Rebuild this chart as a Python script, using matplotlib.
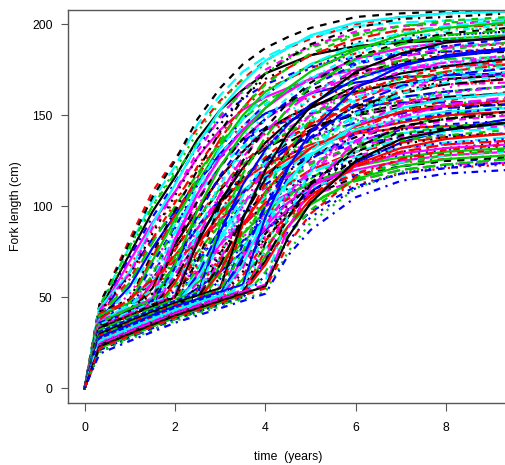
import numpy as np
import matplotlib
matplotlib.use("Agg")
import matplotlib.pyplot as plt

plt.rcParams['font.family'] = ['Liberation Sans', 'DejaVu Sans']

# years at which fork length is tabulated
time = [0, 0.33, 1, 1.5, 2, 2.5, 3, 3.5, 4, 4.5, 5, 6, 7, 8, 9.4]

# fork length (cm) per fish, grouped by when the fast growth starts
early = [
    [0, 43, 74, 97, 116, 137, 153, 164, 173, 178, 183, 188, 190, 191, 192],
    [0, 46, 82, 108, 126, 143, 158, 170, 180, 187, 192, 200, 204, 206, 207],
    [0, 44, 76, 100, 120, 141, 157, 170, 178, 183, 188, 194, 196, 197, 198],
    [0, 42, 72, 94, 113, 133, 148, 159, 167, 172, 177, 182, 184, 185, 186],
    [0, 45, 78, 103, 122, 145, 161, 174, 182, 188, 193, 199, 201, 202, 203],
    [0, 41, 70, 91, 108, 127, 142, 153, 160, 165, 170, 175, 176, 177, 178],
    [0, 46, 80, 105, 125, 148, 165, 178, 187, 193, 198, 204, 206, 207, 208],
    [0, 40, 67, 87, 103, 121, 134, 144, 151, 156, 160, 165, 166, 167, 168],
    [0, 45, 78, 100, 118, 135, 150, 163, 173, 181, 187, 195, 199, 201, 202],
    [0, 39, 64, 82, 97, 114, 127, 136, 143, 147, 151, 155, 157, 157, 158],
]
mix_0_1 = [
    [0, 44, 64, 90, 112, 134, 153, 168, 180, 187, 194, 201, 204, 206, 207],
    [0, 43, 63, 88, 108, 130, 149, 164, 175, 182, 188, 196, 199, 200, 202],
    [0, 42, 62, 85, 106, 127, 145, 160, 170, 176, 183, 190, 194, 194, 196],
    [0, 40, 60, 82, 102, 122, 140, 154, 164, 170, 176, 184, 186, 188, 189],
    [0, 40, 58, 80, 100, 118, 135, 148, 158, 164, 170, 176, 180, 181, 182],
    [0, 38, 56, 77, 95, 113, 129, 142, 151, 156, 162, 168, 171, 172, 173],
    [0, 38, 54, 74, 90, 107, 122, 133, 142, 147, 152, 158, 160, 161, 162],
    [0, 36, 52, 70, 85, 101, 114, 125, 133, 138, 142, 148, 150, 150, 152],
]
one_yr = [
    [0, 42, 49, 74, 98, 120, 141, 159, 173, 181, 189, 198, 203, 204, 206],
    [0, 41, 48, 72, 95, 116, 137, 154, 168, 176, 183, 192, 197, 198, 200],
    [0, 40, 47, 70, 93, 113, 133, 150, 163, 170, 178, 187, 191, 192, 194],
    [0, 38, 45, 68, 89, 108, 127, 144, 156, 163, 170, 179, 183, 185, 186],
    [0, 37, 44, 65, 86, 104, 122, 138, 150, 157, 163, 171, 175, 177, 178],
    [0, 36, 43, 63, 82, 99, 116, 131, 142, 148, 154, 162, 166, 167, 168],
    [0, 35, 42, 60, 77, 93, 109, 122, 132, 138, 144, 150, 154, 155, 156],
    [0, 34, 41, 58, 73, 88, 102, 114, 123, 128, 134, 140, 143, 144, 145],
]
mix_1_15 = [
    [0, 40, 47, 62, 91, 116, 136, 154, 167, 176, 184, 194, 199, 202, 204],
    [0, 39, 46, 60, 88, 112, 132, 148, 161, 170, 176, 186, 192, 194, 196],
    [0, 38, 45, 59, 86, 108, 128, 144, 156, 164, 171, 180, 185, 188, 190],
    [0, 36, 44, 58, 82, 104, 122, 137, 148, 156, 162, 172, 176, 179, 181],
    [0, 35, 42, 55, 79, 98, 116, 130, 142, 149, 155, 163, 168, 170, 172],
    [0, 34, 41, 54, 76, 94, 110, 124, 134, 140, 146, 154, 158, 160, 162],
    [0, 33, 40, 52, 72, 88, 104, 116, 124, 131, 136, 143, 147, 149, 150],
    [0, 32, 39, 50, 68, 84, 98, 108, 116, 122, 128, 134, 138, 139, 140],
]
one_half_yr = [
    [0, 38, 45, 50, 84, 111, 132, 148, 161, 170, 178, 189, 195, 199, 202],
    [0, 37, 44, 49, 82, 107, 127, 142, 154, 163, 170, 181, 187, 190, 193],
    [0, 36, 43, 48, 79, 103, 122, 137, 148, 157, 164, 173, 179, 183, 185],
    [0, 35, 42, 47, 76, 99, 116, 130, 140, 149, 155, 164, 170, 173, 176],
    [0, 33, 40, 45, 72, 93, 110, 123, 133, 141, 147, 155, 160, 163, 166],
    [0, 32, 39, 44, 69, 89, 104, 116, 125, 133, 138, 146, 151, 154, 156],
    [0, 31, 38, 43, 66, 84, 98, 109, 117, 124, 129, 136, 140, 143, 145],
    [0, 30, 37, 42, 63, 80, 93, 103, 110, 117, 121, 128, 132, 134, 136],
]
steady = [
    [0, 34, 44, 52, 61, 72, 86, 101, 115, 127, 137, 153, 163, 169, 174],
    [0, 31, 40, 47, 55, 64, 76, 90, 104, 116, 126, 142, 152, 158, 163],
    [0, 29, 37, 43, 50, 58, 68, 80, 93, 105, 115, 132, 143, 150, 155],
    [0, 27, 35, 41, 47, 55, 64, 75, 87, 98, 108, 124, 135, 142, 148],
    [0, 36, 46, 54, 62, 70, 80, 92, 106, 120, 132, 151, 165, 174, 181],
    [0, 32, 42, 50, 57, 65, 73, 83, 95, 108, 120, 140, 155, 165, 172],
    [0, 25, 33, 39, 45, 52, 60, 70, 82, 95, 107, 127, 142, 152, 158],
    [0, 38, 49, 60, 70, 80, 92, 106, 120, 132, 142, 158, 168, 174, 178],
]
mix_15_2 = [
    [0, 36, 44, 48, 68, 98, 122, 140, 154, 165, 174, 186, 194, 198, 201],
    [0, 36, 42, 48, 66, 95, 117, 134, 148, 158, 166, 178, 184, 188, 192],
    [0, 34, 42, 46, 64, 92, 112, 129, 142, 152, 159, 170, 176, 180, 183],
    [0, 33, 40, 45, 62, 88, 106, 122, 134, 143, 150, 160, 166, 170, 173],
    [0, 32, 38, 44, 60, 82, 101, 116, 126, 135, 142, 151, 156, 160, 162],
    [0, 30, 38, 42, 58, 79, 96, 108, 118, 126, 132, 141, 146, 150, 152],
    [0, 30, 36, 42, 56, 75, 90, 102, 111, 118, 124, 132, 136, 139, 142],
    [0, 28, 36, 40, 54, 72, 86, 97, 105, 112, 116, 124, 128, 131, 133],
]
two_yr = [
    [0, 35, 42, 47, 52, 86, 112, 132, 148, 160, 170, 184, 192, 196, 200],
    [0, 34, 41, 46, 51, 83, 107, 127, 141, 153, 162, 175, 182, 187, 190],
    [0, 33, 40, 45, 50, 80, 103, 121, 135, 146, 154, 166, 173, 177, 181],
    [0, 31, 38, 43, 48, 76, 97, 114, 127, 137, 145, 156, 163, 167, 170],
    [0, 30, 37, 42, 47, 72, 92, 108, 120, 129, 136, 147, 153, 156, 159],
    [0, 29, 36, 41, 46, 69, 87, 101, 112, 120, 127, 136, 142, 145, 147],
    [0, 28, 35, 40, 45, 66, 82, 95, 105, 113, 119, 127, 132, 135, 138],
    [0, 27, 34, 39, 44, 63, 79, 91, 100, 107, 112, 120, 125, 128, 130],
]
mix_2_25 = [
    [0, 34, 40, 46, 50, 70, 101, 125, 143, 157, 168, 182, 190, 195, 198],
    [0, 32, 40, 44, 50, 68, 96, 120, 136, 149, 159, 172, 180, 184, 188],
    [0, 32, 38, 44, 48, 66, 93, 114, 130, 142, 150, 163, 170, 174, 178],
    [0, 30, 36, 42, 46, 62, 88, 107, 122, 132, 141, 152, 160, 163, 166],
    [0, 28, 36, 40, 46, 60, 83, 101, 114, 124, 132, 142, 148, 152, 154],
    [0, 28, 34, 40, 44, 58, 79, 95, 107, 116, 124, 133, 138, 142, 144],
    [0, 26, 34, 38, 44, 56, 75, 90, 101, 110, 116, 124, 130, 132, 135],
    [0, 26, 32, 38, 42, 54, 72, 86, 96, 104, 110, 118, 124, 126, 128],
]
two_half_yr = [
    [0, 32, 39, 44, 49, 53, 90, 118, 138, 154, 166, 181, 189, 194, 197],
    [0, 31, 38, 43, 48, 52, 86, 112, 131, 145, 156, 170, 178, 182, 186],
    [0, 30, 37, 42, 47, 51, 83, 106, 124, 137, 147, 160, 167, 171, 174],
    [0, 28, 35, 40, 45, 49, 78, 100, 116, 128, 137, 149, 156, 159, 162],
    [0, 27, 34, 39, 44, 48, 74, 94, 108, 119, 128, 138, 144, 148, 150],
    [0, 26, 33, 38, 43, 47, 71, 89, 102, 112, 120, 130, 135, 138, 140],
    [0, 25, 32, 37, 42, 46, 68, 85, 97, 106, 113, 122, 127, 130, 132],
    [0, 24, 31, 36, 41, 45, 66, 81, 93, 102, 109, 117, 122, 125, 126],
]
mix_25_3 = [
    [0, 31, 38, 43, 48, 52, 72, 106, 129, 147, 160, 178, 186, 192, 195],
    [0, 30, 37, 42, 47, 51, 70, 100, 122, 138, 150, 166, 174, 179, 183],
    [0, 28, 36, 40, 46, 50, 68, 94, 115, 130, 141, 155, 162, 167, 170],
    [0, 27, 34, 39, 44, 48, 64, 90, 108, 122, 132, 144, 152, 155, 158],
    [0, 26, 33, 38, 43, 47, 62, 84, 101, 114, 123, 134, 140, 144, 146],
    [0, 25, 32, 37, 42, 46, 60, 80, 96, 106, 116, 126, 132, 135, 137],
    [0, 24, 31, 36, 41, 45, 58, 78, 91, 102, 110, 119, 124, 128, 130],
    [0, 23, 30, 35, 40, 44, 56, 74, 88, 98, 106, 114, 120, 123, 124],
]
three_yr = [
    [0, 30, 37, 42, 47, 51, 55, 93, 120, 140, 155, 174, 184, 190, 193],
    [0, 29, 36, 41, 46, 50, 54, 88, 113, 131, 145, 162, 171, 176, 180],
    [0, 27, 34, 39, 44, 48, 52, 83, 106, 122, 135, 150, 158, 163, 166],
    [0, 26, 33, 38, 43, 47, 51, 79, 100, 115, 126, 140, 147, 151, 154],
    [0, 25, 32, 37, 42, 46, 50, 75, 94, 108, 118, 130, 137, 141, 143],
    [0, 24, 31, 36, 41, 45, 49, 72, 89, 102, 111, 122, 129, 132, 134],
    [0, 23, 30, 35, 40, 44, 48, 70, 85, 97, 106, 116, 122, 125, 127],
    [0, 22, 29, 34, 39, 43, 47, 68, 83, 94, 102, 112, 118, 121, 123],
]
mix_3_35 = [
    [0, 29, 36, 41, 46, 50, 54, 75, 107, 130, 148, 170, 180, 186, 190],
    [0, 28, 34, 40, 44, 48, 52, 72, 100, 122, 138, 156, 166, 172, 176],
    [0, 26, 33, 38, 43, 47, 51, 68, 95, 114, 128, 145, 154, 159, 162],
    [0, 25, 32, 37, 42, 46, 50, 66, 90, 107, 120, 135, 143, 147, 150],
    [0, 24, 31, 36, 41, 45, 49, 64, 85, 101, 112, 126, 134, 138, 140],
    [0, 23, 30, 35, 40, 44, 48, 62, 81, 96, 106, 118, 126, 129, 131],
    [0, 22, 29, 34, 39, 43, 47, 60, 78, 92, 102, 114, 120, 123, 126],
]
three_half_yr = [
    [0, 28, 35, 40, 45, 49, 53, 57, 94, 121, 141, 165, 177, 183, 187],
    [0, 26, 33, 38, 43, 47, 51, 55, 88, 113, 130, 151, 162, 168, 172],
    [0, 25, 32, 37, 42, 46, 50, 54, 84, 105, 121, 140, 150, 155, 158],
    [0, 24, 31, 36, 41, 45, 49, 53, 80, 99, 113, 130, 139, 143, 146],
    [0, 23, 30, 35, 40, 44, 48, 52, 76, 94, 106, 122, 130, 134, 136],
    [0, 22, 29, 34, 39, 43, 47, 51, 73, 89, 101, 115, 122, 126, 128],
    [0, 21, 28, 33, 38, 42, 46, 50, 71, 86, 97, 111, 118, 121, 124],
]
mix_35_4 = [
    [0, 27, 34, 39, 44, 48, 52, 56, 76, 108, 130, 158, 171, 178, 182],
    [0, 25, 32, 37, 42, 46, 50, 54, 72, 100, 120, 144, 156, 162, 166],
    [0, 24, 31, 36, 41, 45, 49, 53, 70, 94, 112, 132, 144, 148, 152],
    [0, 23, 30, 35, 40, 44, 48, 52, 68, 89, 104, 123, 132, 137, 140],
    [0, 22, 28, 34, 38, 42, 46, 50, 64, 84, 98, 116, 124, 128, 131],
    [0, 20, 28, 32, 38, 42, 46, 50, 62, 81, 94, 110, 118, 122, 124],
]
four_yr = [
    [0, 26, 33, 38, 43, 47, 51, 55, 59, 95, 120, 150, 165, 173, 177],
    [0, 24, 31, 36, 41, 45, 49, 53, 57, 88, 110, 136, 149, 156, 160],
    [0, 23, 30, 35, 40, 44, 48, 52, 56, 83, 102, 125, 137, 142, 146],
    [0, 22, 29, 34, 39, 43, 47, 51, 55, 79, 96, 116, 126, 131, 134],
    [0, 20, 27, 32, 37, 41, 45, 49, 53, 75, 91, 110, 119, 123, 126],
    [0, 19, 26, 31, 36, 40, 44, 48, 52, 73, 87, 105, 114, 118, 120],
]

curves = (early + mix_0_1 + one_yr + mix_1_15 + one_half_yr + steady
          + mix_15_2 + two_yr + mix_2_25 + two_half_yr + mix_25_3
          + three_yr + mix_3_35 + three_half_yr + mix_35_4 + four_yr)
lengths = np.array(curves, dtype=float).T

# R matplot defaults: col 1:6, lty 1:5
cols = ['black', '#FF0000', '#00CD00', '#0000FF', '#00FFFF', '#FF00FF']
ltys = ['-', (0, (3, 3)), (0, (1, 2.5)), (0, (1, 2.5, 3, 2.5)), (0, (5.5, 2.5))]

fig = plt.figure(figsize=(5.05, 4.65), dpi=100)
ax = fig.add_axes([68.3 / 505, 1 - 402.9 / 465, (507.8 - 68.3) / 505, (402.9 - 9.7) / 465])

for j in range(lengths.shape[1]):
    ax.plot(time, lengths[:, j], color=cols[j % 6], linestyle=ltys[j % 5], lw=1.6)

ax.set_xlim(-0.36, 9.36)
ax.set_ylim(-8, 208)
ax.set_xticks([0, 2, 4, 6, 8])
ax.set_yticks([0, 50, 100, 150, 200])
for s in ax.spines.values():
    s.set_color('#555555')
    s.set_linewidth(1.0)
ax.tick_params(length=5.4, width=0.8, color='#555555', labelsize=8.8, labelcolor='black')
ax.tick_params(axis='x', pad=8)
ax.tick_params(axis='y', pad=6)

fig.text(288 / 505, 1 - 456.7 / 465, "time  (years)", ha='center', va='center', fontsize=8.8)
fig.text(16 / 505, 1 - 206 / 465, "Fork length (cm)", ha='center', va='center',
         rotation=90, fontsize=8.8)

fig.savefig("out.png", dpi=100)
